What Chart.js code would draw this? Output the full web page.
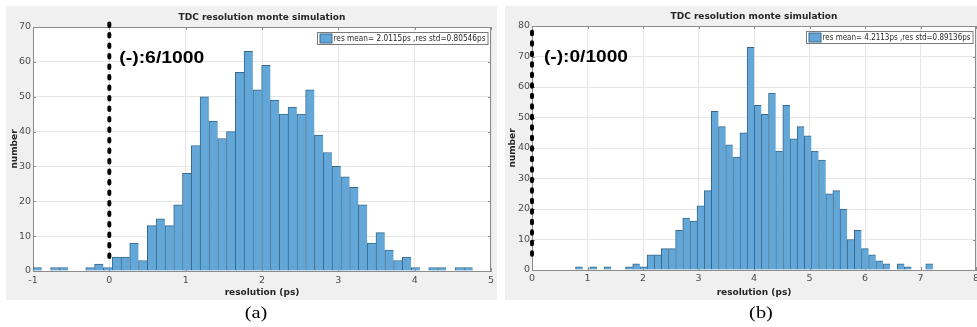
<!DOCTYPE html>
<html><head><meta charset="utf-8">
<script src="https://cdn.jsdelivr.net/npm/chart.js@4.4.1/dist/chart.umd.min.js"></script>
<style>
html,body{margin:0;padding:0;background:#fff;}
body{position:relative;width:977px;height:327px;overflow:hidden;}
.fig{position:absolute;background:#f0f0f0;}
canvas{position:absolute;top:0;}
.cap{position:absolute;top:303px;width:40px;text-align:center;font-family:"Liberation Serif","DejaVu Serif",serif;font-size:17px;line-height:20px;color:#000;transform:scaleX(1.2);transform-origin:center top;}
</style></head><body>
<div class="fig" style="left:6px;top:6px;width:491px;height:294px"></div>
<div class="fig" style="left:505px;top:6px;width:472px;height:294px"></div>
<canvas id="chartA" width="500" height="310" style="left:0"></canvas>
<canvas id="chartB" width="477" height="310" style="left:500px"></canvas>
<div class="cap" style="left:236px">(a)</div>
<div class="cap" style="left:741px">(b)</div>
<script>
// ---------- data ----------
const countsA = [1,0,1,1,0,0,1,2,1,4, 4,8,3,13,15,13,19,28,36,50, 43,38,40,57,63,52,59,49,45,47, 45,52,39,34,30,27,24,19,8,11, 6,3,4,1,0,1,1,0,1,1];
const countsB = [1,0,1,0,1,0,0,1,2,1, 5,5,7,7,13,17,16,21,26,52, 47,41,37,45,73,54,51,58,39,54, 43,47,44,39,36,25,26,20,10,13, 7,5,3,2,0,2,1,0,0,2];
const binStartA = -1.0, binWidthA = 0.1152;
const binStartB = 0.784, binWidthB = 0.1288;
const xTicksA = [-1,0,1,2,3,4,5];
const yTicksA = [0,10,20,30,40,50,60,70];
const xTicksB = [0,1,2,3,4,5,6,7,8];
const yTicksB = [0,10,20,30,40,50,60,70,80];
const labelA = 'res mean= 2.0115ps ,res std=0.80546ps';
const labelB = 'res mean= 4.2113ps ,res std=0.89136ps';
const noteA = '(-):6/1000';
const noteB = '(-):0/1000';
const cutLineA = [{x:0,y:4},{x:0,y:71}];
const cutLineB = [{x:0,y:5},{x:0,y:80.7}];
const titleText = 'TDC resolution monte simulation';
const xTitleText = 'resolution (ps)';
const yTitleText = 'number';

// ---------- drawing ----------
const FONT = '"DejaVu Sans", sans-serif';
const BAR_FILL = '#62a7d8', BAR_EDGE = '#3a6788', AXIS = '#8c8c8c', GRID = '#e6e6e6', TICK = '#4d4d4d', DARK = '#262626';

const matlabPlugin = {
  id: 'matlab',
  beforeDraw(chart) {
    const {ctx, chartArea: a} = chart;
    ctx.save(); ctx.fillStyle = '#fff';
    ctx.fillRect(a.left, a.top, a.right - a.left, a.bottom - a.top);
    ctx.restore();
  },
  beforeDatasetsDraw(chart) {
    const {ctx, chartArea: a, scales} = chart;
    ctx.save();
    ctx.strokeStyle = AXIS; ctx.lineWidth = 1;
    ctx.beginPath();
    ctx.moveTo(a.left, Math.round(a.top) + 0.5); ctx.lineTo(a.right, Math.round(a.top) + 0.5);
    ctx.moveTo(Math.round(a.right) - 0.5, a.top); ctx.lineTo(Math.round(a.right) - 0.5, a.bottom);
    scales.x.ticks.forEach(t => {
      const px = Math.round(scales.x.getPixelForValue(t.value)) + 0.5;
      ctx.moveTo(px, a.bottom); ctx.lineTo(px, a.bottom - 3);
      ctx.moveTo(px, a.top); ctx.lineTo(px, a.top + 3);
    });
    scales.y.ticks.forEach(t => {
      const py = Math.round(scales.y.getPixelForValue(t.value)) + 0.5;
      ctx.moveTo(a.left, py); ctx.lineTo(a.left + 3, py);
      ctx.moveTo(a.right, py); ctx.lineTo(a.right - 3, py);
    });
    ctx.stroke();
    ctx.restore();
  },
  afterDatasetsDraw(chart, args, o) {
    const {ctx, chartArea: a, scales} = chart;
    const ds = chart.data.datasets[0];
    ctx.save();
    // legend box
    ctx.font = '8px ' + FONT;
    const tw = o.legendTextWidth, h = 12;
    const w = 2.5 + 12 + 1.5 + tw + 2.5;
    const x1 = Math.round(a.right - 4 - w) + 0.5, y1 = Math.round(a.top + 5) + 0.5;
    ctx.fillStyle = '#fff'; ctx.fillRect(x1, y1, w, h);
    ctx.strokeStyle = '#7a7a7a'; ctx.lineWidth = 1; ctx.strokeRect(x1, y1, w, h);
    ctx.fillStyle = ds.backgroundColor; ctx.fillRect(x1 + 2.5, y1 + 1.5, 12, 9);
    ctx.strokeStyle = ds.borderColor; ctx.strokeRect(x1 + 2.5, y1 + 1.5, 12, 9);
    ctx.fillStyle = DARK; ctx.textBaseline = 'middle'; ctx.textAlign = 'left';
    ctx.fillText(ds.label, x1 + 16, y1 + h / 2 + 0.5, tw);
    // annotation text
    ctx.font = 'bold 16px "Liberation Sans", Arial, sans-serif';
    ctx.fillStyle = '#000'; ctx.textBaseline = 'alphabetic';
    const nat = ctx.measureText(o.note).width;
    ctx.translate(scales.x.getPixelForValue(0) + o.noteDx, a.top + o.noteDy);
    ctx.scale(o.noteWidth / nat, 1);
    ctx.fillText(o.note, 0, 0);
    ctx.restore();
  }
};

function makeChart(id, counts, start, width, xTicks, yTicks, label, cut, p) {
  const bins = counts.map((c, i) => ({x: start + (i + 0.5) * width, y: c}));
  const tickFont = {family: FONT, size: 9.5};
  const titleFont = {family: FONT, size: 9, weight: 'bold', lineHeight: 1.2};
  return new Chart(document.getElementById(id), {
    type: 'bar',
    data: {datasets: [
      {type: 'bar', label: label, data: bins, backgroundColor: BAR_FILL, borderColor: BAR_EDGE,
       borderWidth: {left: 1, top: 1, right: 0, bottom: 0}, borderSkipped: 'start',
       barPercentage: 1, categoryPercentage: 1, order: 2},
      {type: 'line', label: 'cut', data: cut, borderColor: '#000', borderWidth: 4,
       borderDash: [2.5, 8], borderCapStyle: 'round', pointRadius: 0, fill: false,
       clip: false, order: 1}
    ]},
    options: {
      responsive: false, animation: false, devicePixelRatio: 1, events: [],
      layout: {padding: {left: p.padL, right: p.padR, top: 0, bottom: 10}},
      plugins: {
        legend: {display: false}, tooltip: {enabled: false},
        title: {display: true, text: titleText, fullSize: false, color: DARK, font: titleFont,
                padding: {top: p.titleTop, bottom: p.titleBottom}},
        matlab: {legendTextWidth: p.legendTW, note: p.note, noteDx: p.noteDx, noteDy: p.noteDy, noteWidth: p.noteW}
      },
      scales: {
        x: {type: 'linear', min: xTicks[0], max: xTicks[xTicks.length - 1], offset: false,
            afterBuildTicks: s => { s.ticks = xTicks.map(v => ({value: v})); },
            afterFit: s => { s.height = p.xH; s.paddingLeft = 0; s.paddingRight = 0; },
            grid: {color: GRID, drawTicks: false, offset: false},
            border: {display: true, color: AXIS, width: 1},
            ticks: {color: TICK, font: tickFont, padding: p.xTickPad, maxRotation: 0, autoSkip: false},
            title: {display: true, text: xTitleText, color: DARK, font: titleFont, padding: {top: 0, bottom: 2.1}}},
        y: {type: 'linear', min: yTicks[0], max: yTicks[yTicks.length - 1], beginAtZero: true,
            afterBuildTicks: s => { s.ticks = yTicks.map(v => ({value: v})); },
            afterFit: s => { s.width = 26; s.paddingTop = 0; s.paddingBottom = 0; },
            grid: {color: GRID, drawTicks: false},
            border: {display: true, color: AXIS, width: 1},
            ticks: {color: TICK, font: tickFont, padding: 2},
            title: {display: true, text: yTitleText, color: DARK, font: titleFont, padding: {top: p.yTitlePad, bottom: 0}}}
      }
    },
    plugins: [matlabPlugin]
  });
}

makeChart('chartA', countsA, binStartA, binWidthA, xTicksA, yTicksA, labelA, cutLineA,
  {padL: 7, padR: 9, titleTop: 12.1, titleBottom: 4.1, xH: 29, xTickPad: 3.8, yTitlePad: 2.6,
   legendTW: 152, note: noteA, noteDx: 10, noteDy: 36, noteW: 85});
makeChart('chartB', countsB, binStartB, binWidthB, xTicksB, yTicksB, labelB, cutLineB,
  {padL: 6, padR: 1, titleTop: 11.1, titleBottom: 4.1, xH: 30, xTickPad: 3.3, yTitlePad: 1.6,
   legendTW: 148, note: noteB, noteDx: 12, noteDy: 35.7, noteW: 84});
</script>
</body></html>
